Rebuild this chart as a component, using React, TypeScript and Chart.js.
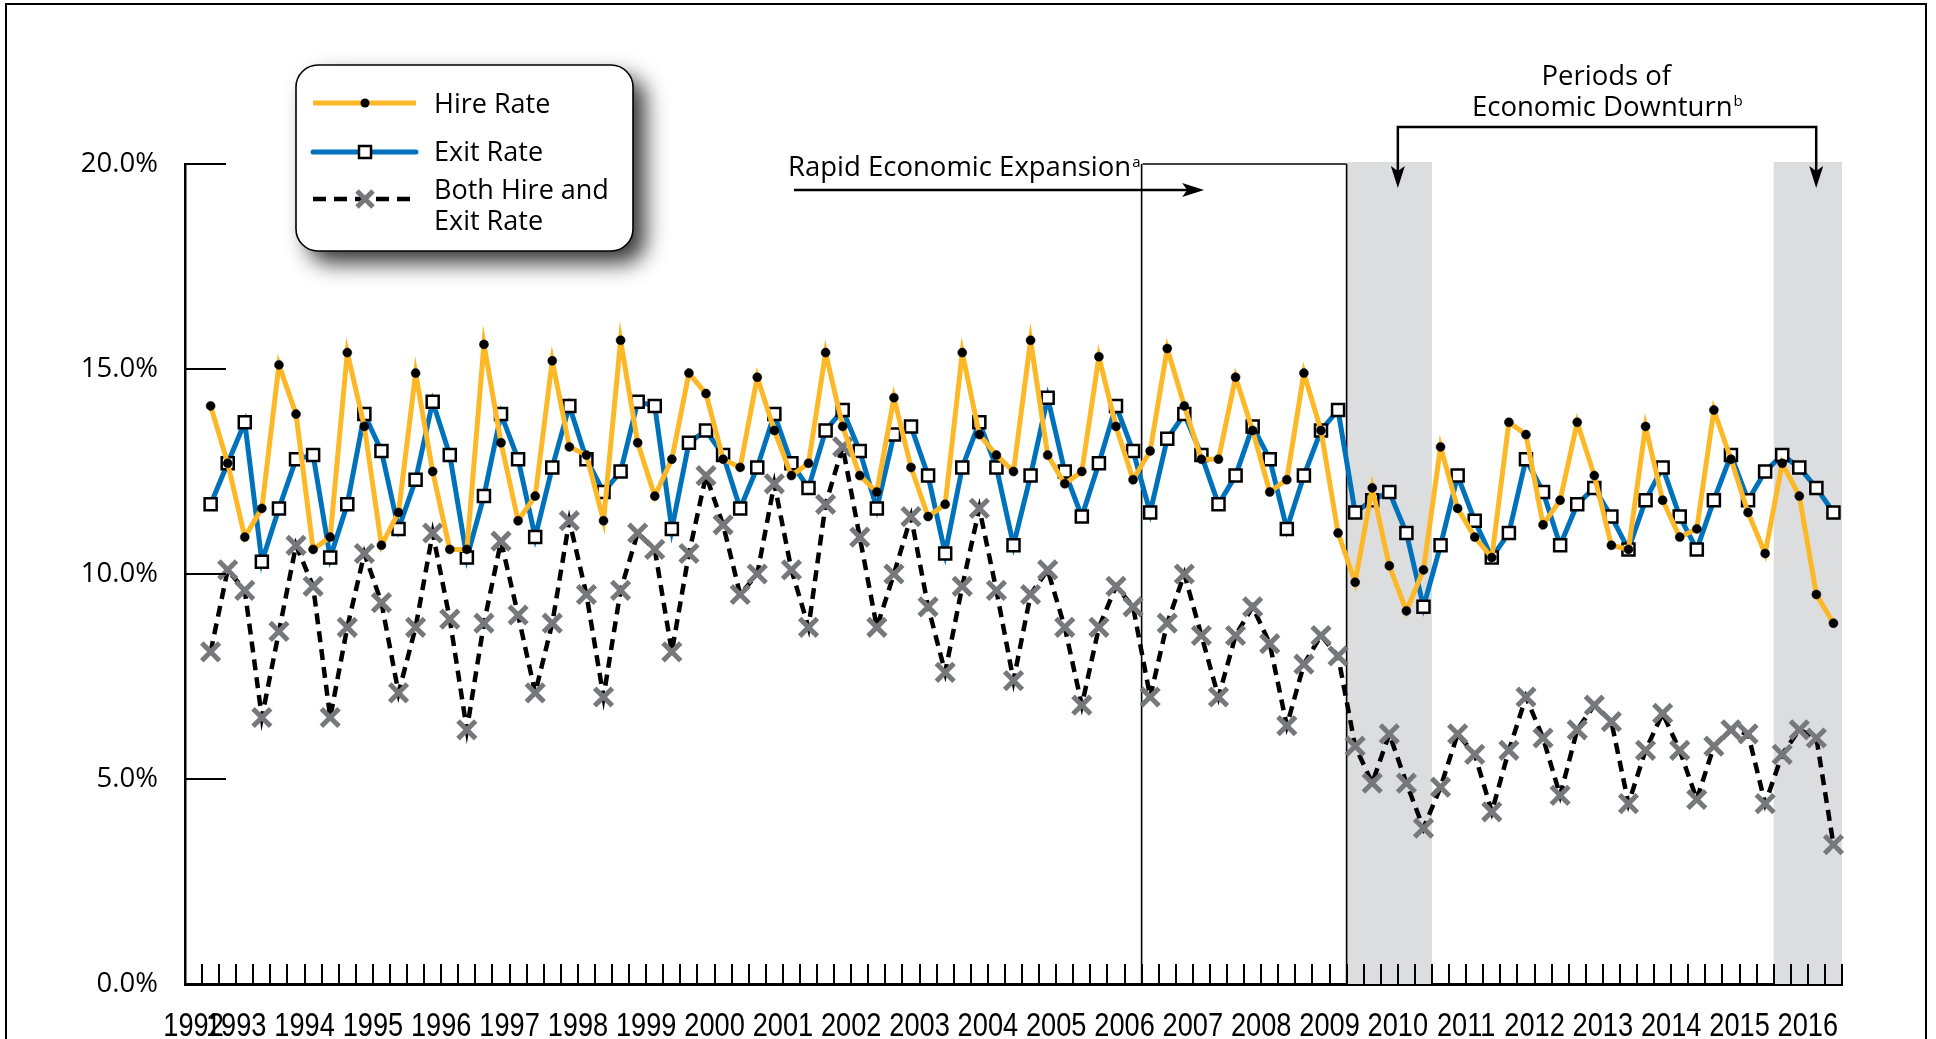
import React, { useEffect, useRef } from 'react';
import { Chart, registerables } from 'chart.js';

Chart.register(...registerables);

// ---------- DATA ----------
const years = [1993, 1994, 1995, 1996, 1997, 1998, 1999, 2000, 2001, 2002, 2003, 2004, 2005, 2006, 2007, 2008, 2009, 2010, 2011, 2012, 2013, 2014, 2015, 2016];
const quarterNames = ['Q1', 'Q2', 'Q3', 'Q4'];
const quarterLabels: string[] = ['1992 Q4', ...years.flatMap((y) => quarterNames.map((q) => `${y} ${q}`))];

const yearTickLabels = ['1992', '1993', '1994', '1995', '1996', '1997', '1998', '1999', '2000', '2001', '2002', '2003', '2004', '2005', '2006', '2007', '2008', '2009', '2010', '2011', '2012', '2013', '2014', '2015', '2016'];

const hireRate = [null,
  14.1, 12.7, 10.9, 11.6, 15.1, 13.9, 10.6, 10.9, 15.4, 13.6, 10.7, 11.5,
  14.9, 12.5, 10.6, 10.6, 15.6, 13.2, 11.3, 11.9, 15.2, 13.1, 12.9, 11.3,
  15.7, 13.2, 11.9, 12.8, 14.9, 14.4, 12.8, 12.6, 14.8, 13.5, 12.4, 12.7,
  15.4, 13.6, 12.4, 12.0, 14.3, 12.6, 11.4, 11.7, 15.4, 13.4, 12.9, 12.5,
  15.7, 12.9, 12.2, 12.5, 15.3, 13.6, 12.3, 13.0, 15.5, 14.1, 12.8, 12.8,
  14.8, 13.5, 12.0, 12.3, 14.9, 13.5, 11.0, 9.8, 12.1, 10.2, 9.1, 10.1,
  13.1, 11.6, 10.9, 10.4, 13.7, 13.4, 11.2, 11.8, 13.7, 12.4, 10.7, 10.6,
  13.6, 11.8, 10.9, 11.1, 14.0, 12.8, 11.5, 10.5, 12.7, 11.9, 9.5, 8.8];

const exitRate = [null,
  11.7, 12.7, 13.7, 10.3, 11.6, 12.8, 12.9, 10.4, 11.7, 13.9, 13.0, 11.1,
  12.3, 14.2, 12.9, 10.4, 11.9, 13.9, 12.8, 10.9, 12.6, 14.1, 12.8, 12.0,
  12.5, 14.2, 14.1, 11.1, 13.2, 13.5, 12.9, 11.6, 12.6, 13.9, 12.7, 12.1,
  13.5, 14.0, 13.0, 11.6, 13.4, 13.6, 12.4, 10.5, 12.6, 13.7, 12.6, 10.7,
  12.4, 14.3, 12.5, 11.4, 12.7, 14.1, 13.0, 11.5, 13.3, 13.9, 12.9, 11.7,
  12.4, 13.6, 12.8, 11.1, 12.4, 13.5, 14.0, 11.5, 11.8, 12.0, 11.0, 9.2,
  10.7, 12.4, 11.3, 10.4, 11.0, 12.8, 12.0, 10.7, 11.7, 12.1, 11.4, 10.6,
  11.8, 12.6, 11.4, 10.6, 11.8, 12.9, 11.8, 12.5, 12.9, 12.6, 12.1, 11.5];

const bothRate = [null,
  8.1, 10.1, 9.6, 6.5, 8.6, 10.7, 9.7, 6.5, 8.7, 10.5, 9.3, 7.1,
  8.7, 11.0, 8.9, 6.2, 8.8, 10.8, 9.0, 7.1, 8.8, 11.3, 9.5, 7.0,
  9.6, 11.0, 10.6, 8.1, 10.5, 12.4, 11.2, 9.5, 10.0, 12.2, 10.1, 8.7,
  11.7, 13.1, 10.9, 8.7, 10.0, 11.4, 9.2, 7.6, 9.7, 11.6, 9.6, 7.4,
  9.5, 10.1, 8.7, 6.8, 8.7, 9.7, 9.2, 7.0, 8.8, 10.0, 8.5, 7.0,
  8.5, 9.2, 8.3, 6.3, 7.8, 8.5, 8.0, 5.8, 4.9, 6.1, 4.9, 3.8,
  4.8, 6.1, 5.6, 4.2, 5.7, 7.0, 6.0, 4.6, 6.2, 6.8, 6.4, 4.4,
  5.7, 6.6, 5.7, 4.5, 5.8, 6.2, 6.1, 4.4, 5.6, 6.2, 6.0, 3.4];

const downturnPeriods = [['2009 Q4', '2010 Q4'], ['2016 Q1', '2016 Q4']];
const expansionPeriod = ['2006 Q4', '2009 Q3'];

// ---------- STYLE ----------
const HIRE_COLOR = '#FDB827';
const EXIT_COLOR = '#0072BC';
const X_COLOR = '#77787B';
const SHADE = '#DCDDDF';
const TEXT_FONT = '"Open Sans", sans-serif';

// annotation anchors, in category-boundary units along the x axis
const ANN = {
  expTextX: 35.3,
  expArrowFrom: 35.65,
  expArrowTo: 59.66,
  downArrowLeft: 71.0,
  downArrowRight: 95.49,
  periodsCenter: 83.2,
};

const decorPlugin = {
  id: 'decor',
  beforeDatasetsDraw(chart: any) {
    const { ctx, chartArea, scales } = chart;
    const x = scales.x;
    const y = scales.y;
    const w = x.getPixelForValue(1) - x.getPixelForValue(0);
    const bx = (v: number) => x.getPixelForValue(0) + (v - 0.5) * w;
    const top = y.getPixelForValue(20);
    const bottom = chartArea.bottom;
    ctx.save();
    ctx.fillStyle = SHADE;
    downturnPeriods.forEach(([a, b]) => {
      const i0 = quarterLabels.indexOf(a);
      const i1 = quarterLabels.indexOf(b) + 1;
      ctx.fillRect(bx(i0), top - 2, bx(i1) - bx(i0), bottom - top + 2);
    });
    const e0 = bx(quarterLabels.indexOf(expansionPeriod[0]));
    const e1 = bx(quarterLabels.indexOf(expansionPeriod[1]) + 1);
    ctx.strokeStyle = '#000';
    ctx.lineWidth = 1.6;
    ctx.beginPath();
    ctx.moveTo(e0, bottom);
    ctx.lineTo(e0, top);
    ctx.moveTo(e1, top);
    ctx.lineTo(e1, bottom);
    ctx.stroke();
    ctx.restore();
  },
  afterDraw(chart: any) {
    const { ctx, chartArea, scales } = chart;
    const x = scales.x;
    const y = scales.y;
    const w = x.getPixelForValue(1) - x.getPixelForValue(0);
    const bx = (v: number) => x.getPixelForValue(0) + (v - 0.5) * w;
    const top = y.getPixelForValue(20);
    const bottom = chartArea.bottom;
    ctx.save();
    ctx.strokeStyle = '#000';
    ctx.fillStyle = '#000';

    // x tick marks (inward)
    ctx.lineWidth = 2;
    ctx.beginPath();
    for (let i = 1; i <= quarterLabels.length; i++) {
      const px = Math.round(bx(i));
      ctx.moveTo(px, bottom);
      ctx.lineTo(px, bottom - 20);
    }
    // y tick marks (inward)
    [5, 10, 15, 20].forEach((v) => {
      const py = y.getPixelForValue(v);
      ctx.moveTo(chartArea.left, py);
      ctx.lineTo(chartArea.left + 41, py);
    });
    ctx.stroke();

    // year labels (condensed), centred on each year's span of quarters
    ctx.font = '34px "Liberation Sans", Arial, sans-serif';
    ctx.textAlign = 'center';
    ctx.textBaseline = 'alphabetic';
    yearTickLabels.forEach((lab, i) => {
      const px = bx(i === 0 ? 0.5 : 4 * i - 1);
      ctx.save();
      ctx.translate(px, 1036);
      ctx.scale(0.8, 1);
      ctx.fillText(lab, 0, 0);
      ctx.restore();
    });

    // outer frame
    ctx.lineWidth = 2;
    ctx.beginPath();
    ctx.moveTo(6, 1100);
    ctx.lineTo(6, 4);
    ctx.lineTo(1926, 4);
    ctx.lineTo(1926, 1100);
    ctx.stroke();

    // ---- legend box ----
    const lx = 296, ly = 65, lw = 337, lh = 186;
    ctx.save();
    ctx.shadowColor = 'rgba(0,0,0,0.8)';
    ctx.shadowBlur = 22;
    ctx.shadowOffsetX = 12;
    ctx.shadowOffsetY = 12;
    ctx.fillStyle = '#fff';
    ctx.beginPath();
    ctx.roundRect(lx, ly, lw, lh, 22);
    ctx.fill();
    ctx.restore();
    ctx.lineWidth = 1.6;
    ctx.beginPath();
    ctx.roundRect(lx, ly, lw, lh, 22);
    ctx.stroke();

    const sx0 = 313, sx1 = 416, sxm = 365;
    ctx.strokeStyle = HIRE_COLOR;
    ctx.lineWidth = 5;
    ctx.beginPath(); ctx.moveTo(sx0, 103); ctx.lineTo(sx1, 103); ctx.stroke();
    ctx.fillStyle = '#000';
    ctx.beginPath(); ctx.arc(sxm, 103, 4.5, 0, Math.PI * 2); ctx.fill();
    ctx.strokeStyle = EXIT_COLOR;
    ctx.lineCap = 'round';
    ctx.beginPath(); ctx.moveTo(sx0, 152); ctx.lineTo(sx1, 152); ctx.stroke();
    ctx.lineCap = 'butt';
    ctx.fillStyle = '#fff';
    ctx.strokeStyle = '#000';
    ctx.lineWidth = 2.5;
    ctx.beginPath(); ctx.rect(sxm - 6, 146, 12, 12); ctx.fill(); ctx.stroke();
    ctx.strokeStyle = '#000';
    ctx.lineWidth = 4.5;
    ctx.setLineDash([13, 8]);
    ctx.beginPath(); ctx.moveTo(sx0, 199); ctx.lineTo(sx1, 199); ctx.stroke();
    ctx.setLineDash([]);
    ctx.strokeStyle = X_COLOR;
    ctx.lineWidth = 5;
    ctx.beginPath();
    ctx.moveTo(sxm - 8, 191); ctx.lineTo(sxm + 8, 207);
    ctx.moveTo(sxm + 8, 191); ctx.lineTo(sxm - 8, 207);
    ctx.stroke();

    ctx.fillStyle = '#000';
    ctx.font = `27px ${TEXT_FONT}`;
    ctx.textAlign = 'left';
    ctx.textBaseline = 'alphabetic';
    ctx.fillText('Hire Rate', 434, 113);
    ctx.fillText('Exit Rate', 434, 161);
    ctx.fillText('Both Hire and', 434, 199);
    ctx.fillText('Exit Rate', 434, 230);

    // ---- Rapid Economic Expansion ----
    ctx.strokeStyle = '#000';
    ctx.fillStyle = '#000';
    const expText = 'Rapid Economic Expansion';
    const tx = bx(ANN.expTextX);
    ctx.font = `27.5px ${TEXT_FONT}`;
    ctx.fillText(expText, tx, top + 12);
    const tw = ctx.measureText(expText).width;
    ctx.font = `15px ${TEXT_FONT}`;
    ctx.fillText('a', tx + tw + 1, top + 3);
    const aw = ctx.measureText('a').width;

    // top edge of the expansion box, starting right after the label
    const e1 = bx(quarterLabels.indexOf(expansionPeriod[1]) + 1);
    ctx.lineWidth = 1.6;
    ctx.beginPath();
    ctx.moveTo(tx + tw + aw + 3, top);
    ctx.lineTo(e1, top);
    ctx.stroke();

    const ay = top + 26;
    const ax0 = bx(ANN.expArrowFrom), ax1 = bx(ANN.expArrowTo);
    ctx.lineWidth = 2.5;
    ctx.beginPath(); ctx.moveTo(ax0, ay); ctx.lineTo(ax1 - 14, ay); ctx.stroke();
    ctx.beginPath();
    ctx.moveTo(ax1, ay);
    ctx.lineTo(ax1 - 22, ay - 7);
    ctx.lineTo(ax1 - 17, ay);
    ctx.lineTo(ax1 - 22, ay + 7);
    ctx.closePath();
    ctx.fill();

    // ---- Periods of Economic Downturn ----
    const pc = bx(ANN.periodsCenter);
    ctx.font = `27.5px ${TEXT_FONT}`;
    ctx.textAlign = 'center';
    ctx.fillText('Periods of', pc, 85);
    const dtText = 'Economic Downturn';
    const dw = ctx.measureText(dtText).width;
    ctx.textAlign = 'left';
    ctx.fillText(dtText, pc - dw / 2 - 4, 116);
    ctx.font = `15px ${TEXT_FONT}`;
    ctx.fillText('b', pc + dw / 2 - 3, 106);

    const by = 127;
    const dl = bx(ANN.downArrowLeft), dr = bx(ANN.downArrowRight);
    const tipY = top + 24;
    ctx.lineWidth = 2.5;
    ctx.beginPath();
    ctx.moveTo(dl, tipY - 14);
    ctx.lineTo(dl, by);
    ctx.lineTo(dr, by);
    ctx.lineTo(dr, tipY - 14);
    ctx.stroke();
    [dl, dr].forEach((px) => {
      ctx.beginPath();
      ctx.moveTo(px, tipY);
      ctx.lineTo(px - 7, tipY - 22);
      ctx.lineTo(px, tipY - 17);
      ctx.lineTo(px + 7, tipY - 22);
      ctx.closePath();
      ctx.fill();
    });
    ctx.restore();
  },
};

export default function App() {
  const ref = useRef<HTMLCanvasElement>(null);
  useEffect(() => {
    if (!ref.current) return;
    const chart = new Chart(ref.current, {
      type: 'line',
      data: {
        labels: quarterLabels,
        datasets: [
          {
            label: 'Hire Rate',
            data: hireRate,
            borderColor: HIRE_COLOR,
            borderWidth: 5,
            pointStyle: 'circle',
            pointRadius: 4.5,
            pointBackgroundColor: '#000',
            pointBorderColor: '#000',
            pointBorderWidth: 0.5,
            tension: 0,
            order: 1,
          },
          {
            label: 'Exit Rate',
            data: exitRate,
            borderColor: EXIT_COLOR,
            borderWidth: 5,
            pointStyle: 'rect',
            pointRadius: 8.5,
            pointBackgroundColor: '#fff',
            pointBorderColor: '#000',
            pointBorderWidth: 2.5,
            tension: 0,
            order: 2,
          },
          {
            label: 'Both Hire and Exit Rate',
            data: bothRate,
            borderColor: '#000',
            borderWidth: 4.5,
            borderDash: [11, 7],
            pointStyle: 'crossRot',
            pointRadius: 12.5,
            pointBorderColor: X_COLOR,
            pointBorderWidth: 5,
            tension: 0,
            order: 3,
          },
        ] as any,
      },
      options: {
        animation: false,
        responsive: false,
        devicePixelRatio: 1,
        layout: { padding: { left: 0, top: 164, right: 94, bottom: 55 } },
        plugins: { legend: { display: false }, tooltip: { enabled: false } },
        scales: {
          x: {
            type: 'category',
            offset: true,
            grid: { display: false, drawTicks: false },
            ticks: { display: false },
            border: { display: true, color: '#000', width: 3 },
            afterFit: (a: any) => { a.height = 0; },
          },
          y: {
            type: 'linear',
            min: 0,
            max: 20,
            grid: { display: false, drawTicks: false },
            border: { display: true, color: '#000', width: 2.5 },
            ticks: {
              stepSize: 5,
              padding: 27,
              color: '#000',
              font: { family: TEXT_FONT, size: 27.5 },
              callback: (v: any) => `${Number(v).toFixed(1)}%`,
            },
            afterFit: (a: any) => { a.width = 185; },
          },
        },
      } as any,
      plugins: [decorPlugin],
    });
    return () => chart.destroy();
  }, []);
  return (
    <div style={{ position: 'absolute', left: 0, top: 0, width: 1936, height: 1039, background: '#fff' }}>
      <canvas ref={ref} width={1936} height={1039} style={{ display: 'block' }} />
    </div>
  );
}
